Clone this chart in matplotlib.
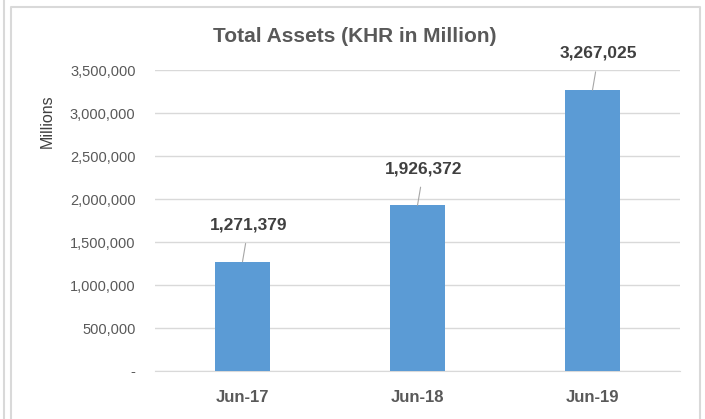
import matplotlib.pyplot as plt
from matplotlib.lines import Line2D
from matplotlib.ticker import FuncFormatter

# Data
periods = ['Jun-17', 'Jun-18', 'Jun-19']
assets = [1271379, 1926372, 3267025]
y_ticks = [0, 500000, 1000000, 1500000, 2000000, 2500000, 3000000, 3500000]

plt.rcParams['font.family'] = ['Liberation Sans Narrow', 'Liberation Sans', 'DejaVu Sans']

W, H = 705, 419
fig = plt.figure(figsize=(W / 100, H / 100), dpi=100, facecolor='white')

# Excel-style chart frames
frame = '#d9d9d9'
fig.add_artist(Line2D([3.5 / W, 3.5 / W], [0, 1], color=frame, lw=1.5, transform=fig.transFigure))
fig.add_artist(Line2D([10.5 / W, 10.5 / W, 699.5 / W, 699.5 / W], [0, 1 - 7 / H, 1 - 7 / H, 0],
                      color=frame, lw=1.5, transform=fig.transFigure))

ax = fig.add_axes([155 / W, 1 - 371 / H, 525 / W, 301 / H])
x = range(len(periods))
ax.bar(x, assets, width=0.31, color='#5b9bd5', zorder=3)

ax.set_xlim(-0.5, 2.5)
ax.set_ylim(0, 3500000)
ax.set_yticks(y_ticks)
ax.yaxis.set_major_formatter(FuncFormatter(lambda v, p: '-' if v == 0 else f'{v:,.0f}'))
ax.grid(axis='y', color='#d9d9d9', lw=1, zorder=0)
for s in ['top', 'right', 'left']:
    ax.spines[s].set_visible(False)
ax.spines['bottom'].set_color('#d9d9d9')
ax.tick_params(axis='y', length=0, pad=14, labelsize=10.5, labelcolor='#595959')
ax.tick_params(axis='x', length=0, pad=14, labelsize=12, labelcolor='#595959')
ax.set_xticks(list(x))
ax.set_xticklabels(periods, fontweight='bold')

ax.set_ylabel('Millions', fontsize=11.5, color='#404040')
ax.yaxis.set_label_coords(-100 / 525, 0.83)

# Data labels with leader lines, offset a bit up and right as in Excel
for i, v in enumerate(assets):
    ax.annotate(f'{v:,}', xy=(i, v), xytext=(4.5, 21), textcoords='offset points',
                ha='center', va='bottom', fontsize=12.5, fontweight='bold', color='#404040',
                arrowprops=dict(arrowstyle='-', color='#a6a6a6', lw=0.8, shrinkA=6, shrinkB=0))

fig.text(355 / W, 1 - 36 / H, 'Total Assets (KHR in Million)', ha='center', va='center',
         fontsize=15, fontweight='bold', color='#595959')

fig.savefig('out.png', dpi=100, facecolor='white')
